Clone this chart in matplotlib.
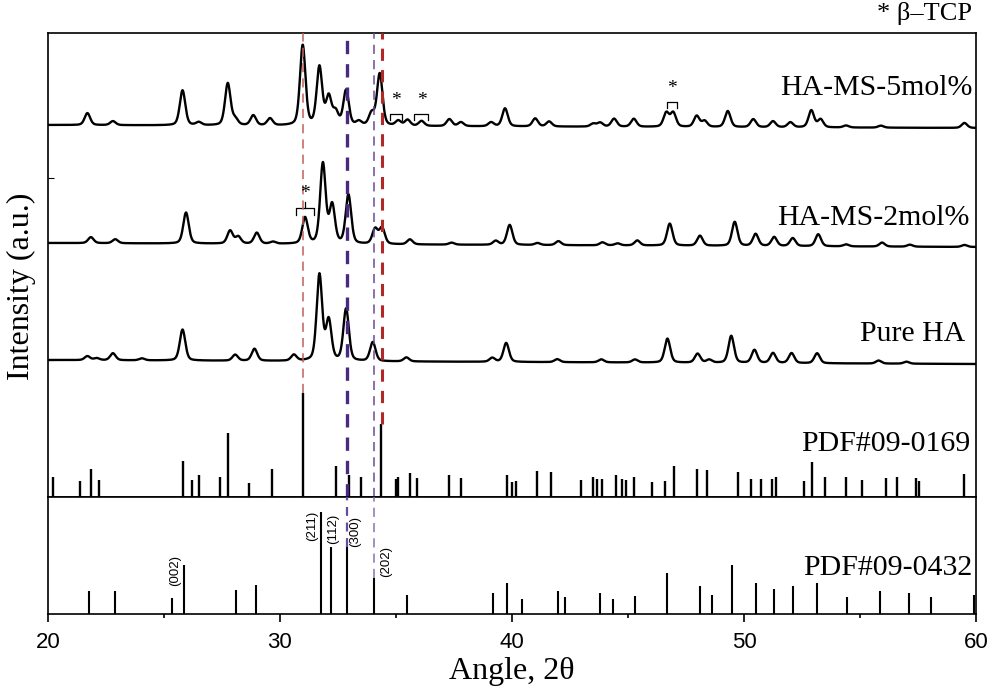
import numpy as np
import matplotlib.pyplot as plt

plt.rcParams['font.family'] = 'Liberation Serif'

# Peak positions (2theta) and heights (arbitrary units)
pure_pos = [21.7, 22.1, 22.8, 24.05, 25.8, 28.07, 28.9, 30.6, 31.7, 32.1, 32.85, 34.0, 35.45,
            39.15, 39.75, 41.95, 43.85, 45.3, 46.7, 48.0, 48.5, 49.45, 50.45, 51.25, 52.05,
            53.15, 55.8, 57.0]
pure_h = [4, 2, 7, 2, 31, 6, 12, 6, 86, 40, 52, 19, 4,
          4, 19, 3, 3, 3, 24, 9, 3, 27, 13, 10, 10,
          10, 3, 2]
pure_base = [137, 133]

ms2_pos = [21.85, 22.9, 25.95, 27.85, 28.2, 29.0, 29.7, 31.08, 31.85, 32.25, 32.95, 34.1, 34.4,
           35.6, 37.4, 39.3, 39.9, 41.1, 42.0, 43.9, 44.55, 45.4, 46.8, 48.1, 49.6, 50.5,
           51.3, 52.1, 53.2, 54.4, 55.95, 57.15, 59.5]
ms2_h = [6, 4, 31, 13, 7, 11, 2, 26, 80, 38, 49, 15, 16,
         5, 2, 4, 20, 2, 4, 3, 2, 5, 22, 10, 24, 12,
         9, 8, 12, 2, 4, 2, 2]
ms2_base = [254, 250]

ms5_pos = [21.7, 22.8, 25.8, 26.5, 27.75, 28.07, 28.85, 29.57, 30.98, 31.7, 32.1, 32.4, 32.85,
           33.4, 33.95, 34.3, 35.1, 35.5, 36.1, 37.3, 37.8, 39.1, 39.7, 41.0, 41.6, 43.5,
           43.8, 44.4, 45.25, 46.65, 46.95, 47.96, 48.3, 49.3, 50.4, 51.25, 52.0, 52.9,
           53.3, 54.4, 55.9, 59.5]
ms5_h = [12, 4, 35, 3, 42, 6, 10, 7, 80, 58, 28, 13, 35,
         4, 12, 52, 5, 6, 5, 7, 4, 4, 18, 8, 5, 3,
         4, 8, 8, 14, 14, 11, 6, 16, 8, 6, 5, 17,
         8, 2, 2, 5]
ms5_base = [372, 369]

# Reference patterns
pdf0169_pos = [20.2, 21.38, 21.85, 22.2, 25.8, 26.2, 26.5, 27.4, 27.76, 28.68, 29.66, 31.0,
               32.4, 32.97, 33.5, 34.35, 35.0, 35.1, 35.6, 35.9, 37.3, 37.8, 39.8, 40.0,
               40.17, 41.07, 41.68, 42.97, 43.5, 43.67, 43.88, 44.48, 44.74, 44.9, 45.26,
               46.03, 46.6, 46.98, 47.97, 48.4, 49.74, 50.3, 50.73, 51.2, 51.4, 52.6, 52.93,
               53.5, 54.4, 55.1, 56.1, 56.6, 57.4, 57.55, 59.5]
pdf0169_h = [20, 16, 28, 17, 36, 17, 22, 20, 64, 14, 28, 104,
             31, 22, 20, 73, 18, 20, 24, 19, 22, 19, 22, 15,
             16, 26, 25, 17, 20, 18, 18, 22, 18, 17, 20,
             15, 16, 31, 28, 27, 25, 18, 18, 18, 20, 16, 35,
             20, 20, 17, 19, 20, 19, 16, 23]

pdf0432_pos = [21.77, 22.9, 25.35, 25.88, 28.1, 28.97, 31.77, 32.2, 32.9, 34.05, 35.48, 39.2,
               39.8, 40.45, 42.0, 42.3, 43.8, 44.37, 45.3, 46.7, 48.1, 48.62, 49.48, 50.5,
               51.28, 52.1, 53.15, 54.44, 55.88, 57.13, 58.07, 59.93]
pdf0432_h = [23, 23, 16, 49, 24, 29, 102, 67, 67, 36, 19, 21,
             31, 15, 23, 17, 21, 15, 18, 41, 28, 19, 49, 31,
             25, 28, 31, 17, 23, 21, 17, 19]

hkl_text = ['(002)', '(211)', '(112)', '(300)', '(202)']
hkl_x = [25.47, 31.38, 32.29, 33.24, 34.57]
hkl_y = [44, 88, 85, 83, 53]

# beta-TCP markers: star positions and brackets (x0, x1, y_top, y_leg)
star_x = [35.0, 36.1, 46.9, 31.08]
star_y = [388, 388, 400, 295]
brackets = [(34.75, 35.27, 383, 377), (35.78, 36.38, 383, 377),
            (46.7, 47.1, 395, 389), (30.7, 31.47, 289, 282)]


def profile(x, pos, h, base):
    fwhm = 0.28
    y = np.linspace(base[0], base[1], len(x))
    for p, a in zip(pos, h):
        d = (x - p) / (fwhm / 2)
        y = y + a * (0.35 / (1 + d ** 2) + 0.65 * np.exp(-np.log(2) * d ** 2))
    return y


x = np.linspace(20, 60, 4001)

fig = plt.figure(figsize=(9.93, 6.9), dpi=100)
ax1 = fig.add_axes([0.0483, 0.2797, 0.9346, 0.6725])
ax2 = fig.add_axes([0.0483, 0.110, 0.9346, 0.1696], sharex=ax1)

for pos, h, base in [(pure_pos, pure_h, pure_base), (ms2_pos, ms2_h, ms2_base),
                     (ms5_pos, ms5_h, ms5_base)]:
    ax1.plot(x, profile(x, pos, h, base), color='black', lw=1.7)

ax1.vlines(pdf0169_pos, 0, pdf0169_h, color='black', lw=1.7)
ax2.vlines(pdf0432_pos, 0, pdf0432_h, color='black', lw=1.5)

# dashed reference lines
ax1.vlines(31.0, 104, 464, color='#c0605a', lw=1.1, linestyles=(0, (6, 4)), zorder=3)
ax1.vlines(34.4, 73, 464, color='#b02828', lw=2.2, linestyles=(0, (4, 3)), zorder=3)
ax1.vlines(32.9, 0, 464, color='#4a2a80', lw=2.4, linestyles=(0, (4, 3)), zorder=3)
ax2.vlines(32.9, 67, 117, color='#6a4a9a', lw=1.6, linestyles=(0, (4, 3)), zorder=3)
ax1.vlines(34.05, 0, 464, color='#6a4a9a', lw=1.1, linestyles=(0, (6, 4)), zorder=3)
ax2.vlines(34.05, 36, 117, color='#8a70b0', lw=1.1, linestyles=(0, (6, 4)), zorder=3)

for sx, sy in zip(star_x, star_y):
    ax1.text(sx, sy, '*', ha='center', va='bottom', fontsize=14)
for x0, x1, yt, yl in brackets:
    ax1.plot([x0, x0, x1, x1], [yl, yt, yt, yl], color='black', lw=0.9)
ax1.plot([31.08, 31.08], [289, 295], color='black', lw=0.9)

for t, hx, hy in zip(hkl_text, hkl_x, hkl_y):
    ax2.text(hx, hy, t, rotation=90, ha='center', va='center', fontsize=9.5,
             family='Liberation Sans')

ax1.text(59.83, 409, 'HA-MS-5mol%', ha='right', va='center', fontsize=21.5)
ax1.text(59.74, 279, 'HA-MS-2mol%', ha='right', va='center', fontsize=21.5)
ax1.text(59.53, 163, 'Pure HA', ha='right', va='center', fontsize=21.5)
ax1.text(59.74, 53, 'PDF#09-0169', ha='right', va='center', fontsize=21.5)
ax2.text(59.83, 46, 'PDF#09-0432', ha='right', va='center', fontsize=21.5)
fig.text(0.979, 0.98, '* β–TCP', ha='right', va='center', fontsize=19)

ax1.set_xlim(20, 60)
ax1.set_ylim(0, 464)
ax2.set_ylim(0, 117)

ax1.set_yticks([137, 319])
ax1.tick_params(axis='y', direction='in', length=4, labelleft=False)
ax1.tick_params(axis='x', bottom=False, labelbottom=False)
ax2.set_yticks([])
ax2.set_xticks([20, 30, 40, 50, 60])
ax2.set_xticks([25, 35, 45, 55], minor=True)
ax2.tick_params(axis='x', which='major', direction='out', length=6, width=1.2,
                labelsize=16, pad=7)
ax2.tick_params(axis='x', which='minor', direction='out', length=3, width=1.2)
for lab in ax2.get_xticklabels():
    lab.set_family('Liberation Sans')

for ax in (ax1, ax2):
    for s in ax.spines.values():
        s.set_linewidth(1.2)

ax2.set_xlabel('Angle, 2θ', fontsize=23, labelpad=3)
fig.text(0.022, 0.585, 'Intensity (a.u.)', rotation=90, ha='center', va='center',
         fontsize=23)

fig.savefig('out.png', dpi=100)
